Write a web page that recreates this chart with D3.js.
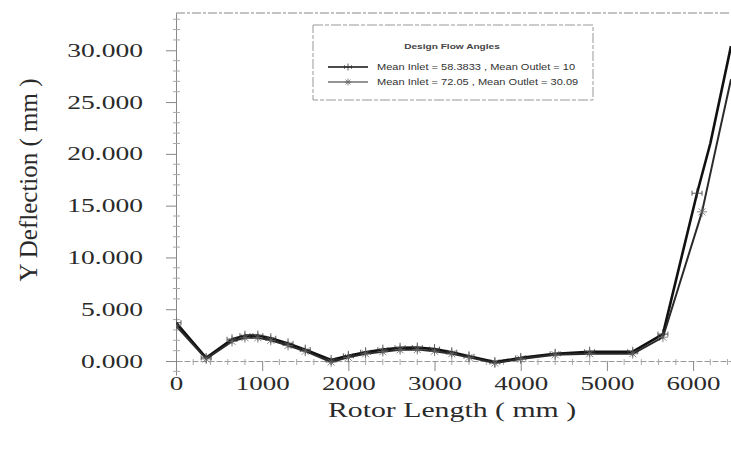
<!DOCTYPE html>
<html>
<head>
<meta charset="utf-8">
<script src="https://cdn.jsdelivr.net/npm/d3@7/dist/d3.min.js"></script>
<style>
  html, body { margin: 0; padding: 0; background: #fff; }
  svg { display: block; }
</style>
</head>
<body>
<svg id="chart" width="731" height="450"></svg>
<script>
// Y deflection along the rotor for two sets of design flow angles
const legendTitle = "Design Flow Angles";
const seriesNames = [
  "Mean Inlet = 58.3833 , Mean Outlet = 10",
  "Mean Inlet = 72.05 , Mean Outlet = 30.09"
];
// [rotor length (mm), Y deflection (mm)]
const series1 = [
  [0, 3.7], [350, 0.3], [650, 2.1], [800, 2.45], [950, 2.45], [1100, 2.2],
  [1300, 1.7], [1500, 1.1], [1800, 0.1], [2000, 0.5], [2200, 0.85], [2400, 1.1],
  [2600, 1.28], [2800, 1.3], [3000, 1.15], [3200, 0.85], [3400, 0.45], [3700, -0.1],
  [4000, 0.3], [4400, 0.7], [4800, 0.9], [5300, 0.9], [5650, 2.6], [6046, 16.2],
  [6200, 21.0], [6440, 30.4]
];
const series2 = [
  [0, 3.4], [350, 0.2], [650, 1.9], [800, 2.25], [950, 2.25], [1100, 2.0],
  [1300, 1.5], [1500, 0.95], [1800, -0.1], [2000, 0.35], [2200, 0.7], [2400, 0.9],
  [2600, 1.08], [2800, 1.1], [3000, 0.95], [3200, 0.7], [3400, 0.35], [3700, -0.2],
  [4000, 0.2], [4400, 0.6], [4800, 0.7], [5300, 0.7], [5650, 2.3], [6104, 14.4],
  [6250, 20.0], [6440, 27.2]
];
const xTicks = [0, 1000, 2000, 3000, 4000, 5000, 6000];
const yTicks = [0, 5, 10, 15, 20, 25, 30];

const svg = d3.select("#chart");
const serif = "'Liberation Serif', 'Times New Roman', serif";
const sans = "'Liberation Sans', Arial, sans-serif";
const textColor = "#2a2a2a";

const x = d3.scaleLinear().domain([0, 6440]).range([176, 731]);
const y = d3.scaleLinear().domain([-1.35, 33.6]).range([375, 13]);

// top frame line
svg.append("line")
  .attr("x1", 176).attr("x2", 731).attr("y1", 13).attr("y2", 13)
  .attr("stroke", "#888").attr("stroke-width", 1).attr("stroke-dasharray", "9,2,3,2");

// minor tick positions
const minorX = d3.range(0, 6441, 200).filter(v => v % 1000 !== 0);
const minorY = d3.range(-1, 34, 1).filter(v => v % 5 !== 0);

const xAxis = svg.append("g")
  .attr("transform", `translate(0,${y(0)})`)
  .call(d3.axisBottom(x).tickValues(xTicks).tickFormat(d3.format("d")).tickSize(10).tickPadding(5).tickSizeOuter(0));
xAxis.select(".domain").attr("stroke", "#999").attr("stroke-dasharray", "6,2");
xAxis.selectAll(".tick line").attr("stroke", "#888");
xAxis.selectAll("text")
  .attr("font-family", serif).attr("font-size", 19).attr("fill", textColor)
  .attr("transform", "scale(1.42,1)");
xAxis.selectAll(".minor").data(minorX).enter().append("line")
  .attr("x1", d => x(d)).attr("x2", d => x(d)).attr("y1", -2).attr("y2", 4)
  .attr("stroke", "#aaa");

const yAxis = svg.append("g")
  .attr("transform", `translate(${x(0)},0)`)
  .call(d3.axisLeft(y).tickValues(yTicks).tickFormat(d3.format(".3f")).tickSize(10).tickPadding(23).tickSizeOuter(0));
yAxis.select(".domain").attr("stroke", "#888");
yAxis.selectAll(".tick line").attr("stroke", "#888");
yAxis.selectAll("text")
  .attr("font-family", serif).attr("font-size", 19).attr("fill", textColor)
  .each(function () {
    const tx = +this.getAttribute("x");
    d3.select(this).attr("x", 0).attr("transform", `translate(${tx},0) scale(1.45,1)`);
  });
yAxis.selectAll(".minor").data(minorY).enter().append("line")
  .attr("x1", -3).attr("x2", 4).attr("y1", d => y(d)).attr("y2", d => y(d))
  .attr("stroke", "#aaa");

// axis titles
svg.append("text")
  .attr("transform", "translate(28,180) rotate(-90)")
  .attr("text-anchor", "middle").attr("dy", "0.35em")
  .attr("font-family", serif).attr("font-size", 25).attr("fill", textColor)
  .text("Y Deflection ( mm )");
svg.append("text")
  .attr("transform", "translate(452,410) scale(1.42,1)")
  .attr("text-anchor", "middle").attr("dy", "0.35em")
  .attr("font-family", serif).attr("font-size", 21).attr("fill", textColor)
  .text("Rotor Length ( mm )");

// curves, clipped to the plot area
svg.append("clipPath").attr("id", "plotClip")
  .append("rect").attr("x", 176).attr("y", 13).attr("width", 555).attr("height", 400);

const line = d3.line().x(d => x(d[0])).y(d => y(d[1])).curve(d3.curveLinear);
const plot = svg.append("g").attr("clip-path", "url(#plotClip)");

const styles = [
  { data: series1, stroke: "#111", width: 2.6, marker: "plus", mstroke: "#333" },
  { data: series2, stroke: "#2a2a2a", width: 2.0, marker: "star", mstroke: "#666" }
];

function markerPath(type, s) {
  if (type === "plus") {
    return `M${-s},0H${s}M0,${-s}V${s}M${-s},${-s * 0.5}V${s * 0.5}M${s},${-s * 0.5}V${s * 0.5}`;
  }
  const d = s * 0.7;
  return `M${-s},0H${s}M0,${-s}V${s}M${-d},${-d}L${d},${d}M${-d},${d}L${d},${-d}`;
}

styles.forEach(st => {
  plot.append("path").datum(st.data)
    .attr("d", line).attr("fill", "none")
    .attr("stroke", st.stroke).attr("stroke-width", st.width)
    .attr("stroke-linejoin", "round");
  plot.selectAll(null).data(st.data.filter(d => d[1] < 18)).enter()
    .append("path")
    .attr("transform", d => `translate(${x(d[0])},${y(d[1])})`)
    .attr("d", markerPath(st.marker, 5))
    .attr("fill", "none").attr("stroke", st.mstroke).attr("stroke-width", 0.8);
});

// legend
const lg = svg.append("g");
lg.append("rect").attr("x", 313).attr("y", 25).attr("width", 280).attr("height", 75)
  .attr("fill", "#fff").attr("stroke", "#999").attr("stroke-width", 1)
  .attr("stroke-dasharray", "10,2,4,2");
lg.append("text").attr("transform", "translate(452,46) scale(1.35,1)").attr("dy", "0.35em")
  .attr("text-anchor", "middle").attr("font-family", sans).attr("font-size", 7.5)
  .attr("font-weight", "bold").attr("fill", "#444").text(legendTitle);
seriesNames.forEach((name, i) => {
  const st = styles[i];
  const ly = 67 + i * 15;
  lg.append("line").attr("x1", 328).attr("x2", 368).attr("y1", ly).attr("y2", ly)
    .attr("stroke", st.stroke).attr("stroke-width", i === 0 ? 1.6 : 1.1);
  lg.append("path").attr("transform", `translate(348,${ly})`)
    .attr("d", markerPath(st.marker, 3.5)).attr("fill", "none")
    .attr("stroke", st.mstroke).attr("stroke-width", 0.8);
  lg.append("text").attr("transform", `translate(377,${ly}) scale(1.3,1)`).attr("dy", "0.35em")
    .attr("font-family", sans).attr("font-size", 8.5).attr("fill", "#333").text(name);
});
</script>
</body>
</html>
